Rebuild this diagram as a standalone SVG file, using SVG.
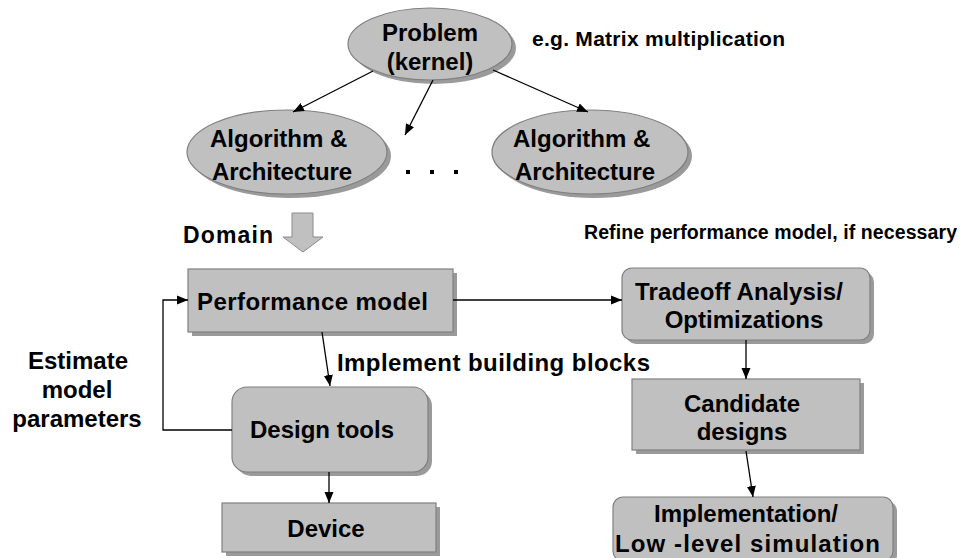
<svg xmlns="http://www.w3.org/2000/svg" width="963" height="558" viewBox="0 0 963 558">
<style>
text{font-family:"Liberation Sans",Arial,sans-serif;font-weight:bold;fill:#000}
.n{font-size:24px;text-anchor:middle}
.shape{fill:#c0c0c0;stroke:#808080;stroke-width:1.2}
.shadow{fill:#9a9a9a}
.c{fill:none;stroke:#000;stroke-width:1.3}
</style>
<defs>
<marker id="ah" viewBox="0 0 11 10" refX="11" refY="5" markerWidth="11" markerHeight="10" markerUnits="userSpaceOnUse" orient="auto">
<path d="M0,0.5 L11,5 L0,9.5 z" fill="#000"/>
</marker>
</defs>
<rect width="963" height="558" fill="#fff"/>

<g id="problem">
<ellipse class="shadow" cx="434" cy="48" rx="82" ry="36"/>
<ellipse class="shape" cx="430" cy="44" rx="82" ry="36"/>
<text class="n" x="430" y="41">Problem</text>
<text class="n" x="430" y="70">(kernel)</text>
</g>
<text x="532" y="46" style="font-size:21px" textLength="253" lengthAdjust="spacing">e.g. Matrix multiplication</text>

<g id="algo1">
<ellipse class="shadow" cx="291" cy="156" rx="100" ry="42"/>
<ellipse class="shape" cx="287" cy="152" rx="100" ry="42"/>
<text x="210" y="147" style="font-size:24px">Algorithm &amp;</text>
<text x="212" y="180" style="font-size:24px" textLength="140" lengthAdjust="spacing">Architecture</text>
</g>
<g id="algo2">
<ellipse class="shadow" cx="594" cy="156" rx="98" ry="42"/>
<ellipse class="shape" cx="590" cy="152" rx="98" ry="42"/>
<text x="513" y="147" style="font-size:24px">Algorithm &amp;</text>
<text x="515" y="180" style="font-size:24px" textLength="140" lengthAdjust="spacing">Architecture</text>
</g>
<g id="dots">
<rect x="406" y="170" width="4" height="4" fill="#000"/>
<rect x="430" y="170" width="4" height="4" fill="#000"/>
<rect x="454" y="170" width="4" height="4" fill="#000"/>
</g>

<text x="183" y="243" style="font-size:23px" textLength="90" lengthAdjust="spacing">Domain</text>
<g id="domain-arrow">
<path d="M292,213 L313,213 L313,237 L323,237 L303,252 L283,237 L292,237 z" fill="#c0c0c0" stroke="#8a8a8a" stroke-width="1"/>
</g>

<text x="584" y="239" style="font-size:19.5px" textLength="373" lengthAdjust="spacing">Refine performance model, if necessary</text>

<g id="perf">
<rect class="shadow" x="192" y="273" width="265" height="63"/>
<rect class="shape" x="188" y="269" width="265" height="63"/>
<text x="197" y="310" style="font-size:24px" textLength="231" lengthAdjust="spacing">Performance model</text>
</g>

<g id="tradeoff">
<rect class="shadow" x="626" y="272" width="248" height="72" rx="10"/>
<rect class="shape" x="622" y="268" width="248" height="72" rx="10"/>
<text x="635" y="300" style="font-size:24px" textLength="208" lengthAdjust="spacing">Tradeoff Analysis/</text>
<text class="n" x="744" y="328">Optimizations</text>
</g>

<text x="337" y="371" style="font-size:24px" textLength="313" lengthAdjust="spacing">Implement building blocks</text>

<g id="estimate">
<text class="n" x="78" y="369">Estimate</text>
<text class="n" x="77" y="398">model</text>
<text class="n" x="77" y="427">parameters</text>
</g>

<g id="design">
<rect class="shadow" x="236" y="391" width="196" height="85" rx="15"/>
<rect class="shape" x="232" y="387" width="196" height="85" rx="15"/>
<text class="n" x="322" y="438">Design tools</text>
</g>

<g id="device">
<rect class="shadow" x="226" y="507" width="214" height="49"/>
<rect class="shape" x="222" y="503" width="214" height="49"/>
<text class="n" x="326" y="537">Device</text>
</g>

<g id="candidate">
<rect class="shadow" x="636" y="383" width="228" height="71"/>
<rect class="shape" x="632" y="379" width="228" height="71"/>
<text class="n" x="742" y="412">Candidate</text>
<text class="n" x="742" y="440">designs</text>
</g>

<g id="impl">
<rect class="shadow" x="617" y="501" width="280" height="64" rx="10"/>
<rect class="shape" x="613" y="497" width="280" height="64" rx="10"/>
<text class="n" x="746" y="522">Implementation/</text>
<text x="615" y="552" style="font-size:24px" textLength="265" lengthAdjust="spacing">Low -level simulation</text>
</g>

<g id="connectors">
<line class="c" x1="373" y1="71" x2="293" y2="112" marker-end="url(#ah)"/>
<line class="c" x1="433" y1="80" x2="405" y2="135" marker-end="url(#ah)"/>
<line class="c" x1="493" y1="70" x2="588" y2="112" marker-end="url(#ah)"/>
<line class="c" x1="453" y1="300" x2="622" y2="300" marker-end="url(#ah)"/>
<line class="c" x1="322" y1="332" x2="330" y2="386" marker-end="url(#ah)"/>
<polyline class="c" points="232,430 163,430 163,300 188,300" marker-end="url(#ah)"/>
<line class="c" x1="329" y1="472" x2="329" y2="503" marker-end="url(#ah)"/>
<line class="c" x1="746" y1="340" x2="746" y2="379" marker-end="url(#ah)"/>
<line class="c" x1="746" y1="451" x2="753" y2="497" marker-end="url(#ah)"/>
</g>
</svg>
